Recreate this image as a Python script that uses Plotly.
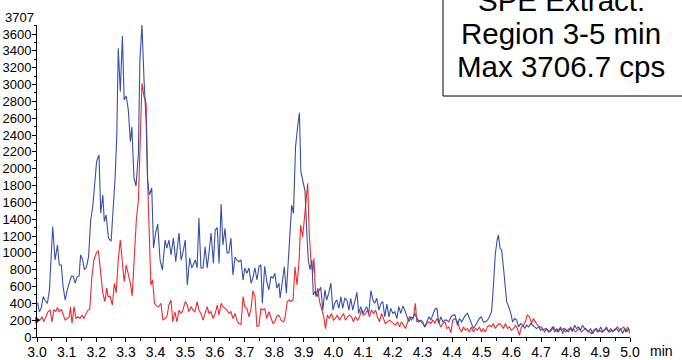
import plotly.graph_objects as go
import numpy as np

# ---------------- data ----------------
blue_time = [3.002,3.008,3.014,3.021,3.028,3.035,3.042,3.047,3.053,3.061,3.069,3.075,3.082,3.088,3.095,3.102,3.109,3.116,3.122,3.129,
3.135,3.142,3.147,3.154,3.160,3.167,3.174,3.181,3.188,3.194,3.201,3.209,3.215,3.222,3.227,3.233,3.241,3.250,3.263,3.269,
3.274,3.281,3.288,3.294,3.301,3.308,3.315,3.320,3.327,3.334,3.342,3.347,3.354,3.361,3.368,3.373,3.379,3.387,3.393,3.400,
3.407,3.415,3.423,3.432,3.438,3.445,3.452,3.460,3.468,3.479,3.486,3.492,3.500,3.507,3.515,3.522,3.528,3.534,3.540,3.546,
3.553,3.560,3.567,3.574,3.580,3.587,3.595,3.601,3.608,3.614,3.621,3.627,3.634,3.641,3.647,3.654,3.661,3.668,3.674,3.681,
3.688,3.695,3.701,3.708,3.715,3.722,3.728,3.735,3.742,3.749,3.755,3.760,3.768,3.775,3.782,3.789,3.796,3.802,3.809,3.816,
3.820,3.827,3.834,3.841,3.848,3.855,3.859,3.865,3.872,3.879,3.885,3.890,3.897,3.904,3.910,3.915,3.921,3.927,3.932,3.938,
3.945,3.950,3.957,3.964,3.971,3.977,3.984,3.991,3.998,4.004,4.011,4.018,4.025,4.031,4.038,4.045,4.052,4.058,4.065,4.072,
4.079,4.085,4.092,4.099,4.106,4.112,4.119,4.126,4.133,4.139,4.146,4.153,4.160,4.166,4.173,4.180,4.187,4.193,4.200,4.207,
4.214,4.220,4.227,4.234,4.240,4.247,4.254,4.261,4.268,4.274,4.281,4.288,4.295,4.301,4.308,4.315,4.322,4.328,4.335,4.342,
4.349,4.355,4.362,4.369,4.376,4.382,4.389,4.396,4.402,4.410,4.418,4.425,4.432,4.438,4.445,4.452,4.458,4.465,4.472,4.479,
4.486,4.492,4.499,4.505,4.512,4.519,4.526,4.533,4.537,4.542,4.546,4.552,4.556,4.562,4.567,4.573,4.579,4.584,4.591,4.598,
4.604,4.611,4.618,4.624,4.631,4.638,4.645,4.651,4.658,4.665,4.672,4.678,4.685,4.692,4.699,4.705,4.712,4.719,4.725,4.732,
4.739,4.746,4.753,4.759,4.766,4.773,4.780,4.786,4.793,4.800,4.806,4.813,4.820,4.827,4.833,4.840,4.847,4.854,4.860,4.867,
4.874,4.881,4.887,4.894,4.901,4.908,4.914,4.921,4.928,4.935,4.941,4.948,4.955,4.962,4.968,4.975,4.982,4.989,4.995,5.000]
blue_cps = [408,300,340,480,430,400,560,955,1310,915,1093,855,855,598,440,560,640,725,725,640,
715,725,974,915,796,835,955,1390,1548,1800,2083,2162,1470,1687,1370,1450,1176,1140,1865,2380,
3430,2914,3576,2815,2863,2697,2320,2498,1889,1794,2186,3290,3707,3053,2578,1865,1687,1770,1057,1235,
1342,915,796,1152,1057,1152,974,1176,895,1235,915,998,1152,618,938,820,860,915,820,1414,
820,820,1073,820,998,1235,875,1271,1300,875,1580,1093,1290,998,998,1176,737,950,915,895,
915,677,820,757,820,640,700,820,677,840,860,400,840,660,560,716,700,757,580,640,
460,680,835,520,955,1310,1568,1470,2260,2498,2665,1964,1865,1730,1232,915,800,915,500,540,
480,540,590,320,560,440,520,640,320,400,440,340,480,340,460,440,320,460,320,440,
530,280,360,280,320,360,280,550,440,400,460,320,400,420,240,390,240,340,280,300,
220,360,280,370,320,240,180,240,220,280,220,180,200,180,120,180,240,200,260,330,
340,160,240,180,200,200,180,240,260,260,140,220,180,220,260,280,220,160,100,140,
180,220,240,180,180,200,240,300,480,775,995,1152,1212,1053,1033,835,578,420,360,280,
180,220,200,120,160,140,100,140,120,160,140,120,100,120,80,100,60,100,60,80,
120,60,100,60,120,40,100,80,60,120,60,140,100,120,80,140,100,80,60,100,
40,80,100,60,120,60,80,120,60,100,60,80,100,60,100,40,100,60,100,40]

red_time = [3.002,3.010,3.017,3.023,3.030,3.037,3.044,3.051,3.057,3.063,3.069,3.075,3.082,3.088,3.095,3.102,3.109,3.113,3.118,3.125,
3.131,3.138,3.145,3.152,3.158,3.165,3.172,3.178,3.185,3.192,3.200,3.207,3.215,3.222,3.229,3.235,3.240,3.247,3.254,3.261,
3.267,3.274,3.281,3.288,3.294,3.301,3.308,3.315,3.321,3.328,3.335,3.342,3.347,3.354,3.361,3.368,3.373,3.379,3.384,3.390,
3.396,3.403,3.410,3.418,3.425,3.432,3.438,3.445,3.452,3.458,3.465,3.472,3.479,3.486,3.492,3.500,3.507,3.512,3.520,3.526,
3.533,3.540,3.546,3.553,3.560,3.567,3.574,3.580,3.587,3.594,3.601,3.608,3.614,3.621,3.627,3.634,3.641,3.647,3.654,3.661,
3.668,3.674,3.681,3.688,3.695,3.701,3.708,3.715,3.722,3.728,3.735,3.742,3.749,3.755,3.762,3.768,3.775,3.782,3.789,3.796,
3.802,3.809,3.816,3.823,3.832,3.837,3.844,3.851,3.857,3.864,3.870,3.877,3.884,3.889,3.896,3.902,3.907,3.913,3.918,3.924,
3.930,3.934,3.940,3.947,3.953,3.960,3.967,3.973,3.979,3.986,3.993,4.000,4.006,4.013,4.020,4.027,4.034,4.040,4.047,4.054,
4.061,4.067,4.074,4.081,4.088,4.094,4.101,4.108,4.115,4.121,4.128,4.135,4.142,4.148,4.155,4.162,4.169,4.175,4.182,4.189,
4.196,4.202,4.209,4.216,4.223,4.229,4.236,4.243,4.250,4.256,4.263,4.270,4.276,4.281,4.288,4.295,4.301,4.308,4.315,4.322,
4.328,4.335,4.342,4.349,4.355,4.362,4.369,4.376,4.382,4.389,4.396,4.402,4.410,4.418,4.425,4.432,4.438,4.445,4.452,4.458,
4.465,4.472,4.479,4.486,4.492,4.499,4.505,4.512,4.519,4.526,4.533,4.539,4.546,4.553,4.560,4.566,4.573,4.580,4.587,4.593,
4.600,4.607,4.614,4.620,4.627,4.634,4.641,4.647,4.654,4.661,4.668,4.674,4.681,4.688,4.695,4.701,4.708,4.715,4.722,4.728,
4.735,4.742,4.749,4.755,4.762,4.769,4.776,4.782,4.789,4.796,4.803,4.809,4.816,4.823,4.829,4.836,4.843,4.850,4.856,4.863,
4.870,4.877,4.884,4.890,4.897,4.904,4.911,4.918,4.924,4.931,4.938,4.945,4.951,4.958,4.965,4.972,4.979,4.985,4.992,4.998]
red_cps = [210,200,240,180,240,300,320,180,330,300,350,300,330,260,200,220,240,360,160,360,
220,240,220,260,220,270,320,330,716,915,998,1025,716,522,420,580,480,480,380,638,
522,915,1152,875,657,855,757,638,487,915,1390,1628,2186,3014,2855,2780,1865,1192,618,677,
400,370,355,400,200,220,240,380,440,180,300,180,320,280,320,420,380,300,360,320,
300,420,320,280,200,280,360,280,300,220,280,380,260,400,360,340,320,280,300,220,
280,200,160,150,480,360,340,240,340,550,480,120,140,340,320,340,220,300,220,160,
180,250,260,200,180,240,420,440,420,450,835,618,915,1330,1190,1410,1588,1826,1235,915,
760,935,480,580,420,320,240,100,260,220,280,200,220,260,200,240,280,200,240,260,
240,180,240,200,240,320,260,280,320,240,320,280,320,240,180,280,200,160,180,200,
180,160,140,180,120,180,140,100,180,240,200,240,400,180,200,180,160,120,160,180,
160,200,160,220,180,120,160,180,100,120,50,200,220,180,100,60,120,80,100,60,
120,60,100,80,120,60,100,60,120,140,120,160,100,140,160,140,100,160,100,120,
80,100,140,100,20,120,140,180,260,240,160,220,180,140,120,120,80,100,80,60,
80,120,80,60,100,80,100,60,80,100,80,100,60,80,100,60,80,100,80,60,
40,80,100,60,80,60,80,100,80,60,80,80,100,120,80,100,120,60,120,80]

y_tick_values = list(range(0, 3601, 200))
y_top = 3707
baseline_marker = 200
box_lines = ["SPE Extract:", "Region 3-5 min", "Max 3706.7 cps"]

BLUE = "#3650A8"
RED = "#EC2B2E"
FONT = "Liberation Sans, Arial, sans-serif"

fig = go.Figure()
fig.add_trace(go.Scatter(x=red_time, y=red_cps, mode="lines",
                         line=dict(color=RED, width=1.1), showlegend=False))
fig.add_trace(go.Scatter(x=blue_time, y=blue_cps, mode="lines",
                         line=dict(color=BLUE, width=1.1), showlegend=False))
fig.add_trace(go.Scatter(x=[3.0], y=[baseline_marker], mode="markers",
                         marker=dict(symbol="triangle-right", size=6, color="black"),
                         cliponaxis=False, showlegend=False))

W, H = 682, 360
ml, mr, mt, mb = 37, 52, 25, 23
pw, ph = W - ml - mr, H - mt - mb

def px2paper_x(px):
    return (px - ml) / pw

def px2paper_y(py):
    return (H - mb - py) / ph

fig.update_layout(
    width=W, height=H,
    margin=dict(l=ml, r=mr, t=mt, b=mb, pad=0),
    plot_bgcolor="white", paper_bgcolor="white",
    font=dict(family=FONT, color="black"),
    xaxis=dict(range=[3.0, 5.0], tick0=3.0, dtick=0.1, tickformat=".1f",
               automargin=False, ticklabelstandoff=-2,
               ticks="outside", ticklen=4, tickcolor="black", tickwidth=1,
               showline=True, linecolor="black", linewidth=1,
               showgrid=False, zeroline=False,
               tickfont=dict(size=14, family=FONT, color="black"),
               minor=dict(dtick=0.05, ticks="outside", ticklen=3, tickcolor="black")),
    yaxis=dict(range=[0, y_top], tickvals=y_tick_values,
               automargin=False, ticklabelstandoff=-2,
               ticks="outside", ticklen=4, tickcolor="black", tickwidth=1,
               showline=True, linecolor="black", linewidth=1,
               showgrid=False, zeroline=False,
               tickfont=dict(size=13, family=FONT, color="black"),
               minor=dict(dtick=100, ticks="outside", ticklen=2, tickcolor="black")),
)

annotations = [
    dict(x=0, xref="paper", y=y_top, yref="y", text=str(y_top), showarrow=False,
         xanchor="right", yanchor="middle", xshift=-1, yshift=8,
         font=dict(size=13, family=FONT, color="black")),
    dict(x=1, xref="paper", y=0, yref="paper", text="min", showarrow=False,
         xanchor="left", yanchor="middle", xshift=18, yshift=-14,
         font=dict(size=14, family=FONT, color="black")),
]
line_centers_px = [0, 33, 66]
for txt, cy in zip(box_lines, line_centers_px):
    annotations.append(dict(x=px2paper_x(561), xref="paper", y=px2paper_y(cy), yref="paper",
                            text=txt, showarrow=False, xanchor="center", yanchor="middle",
                            font=dict(size=29.5, family=FONT, color="black")))
fig.update_layout(annotations=annotations)

fig.add_shape(type="rect", xref="paper", yref="paper",
              x0=px2paper_x(443), x1=px2paper_x(690),
              y0=px2paper_y(96), y1=px2paper_y(-20),
              line=dict(color="black", width=1), fillcolor="rgba(0,0,0,0)", layer="above")

fig.write_html("out.html")
